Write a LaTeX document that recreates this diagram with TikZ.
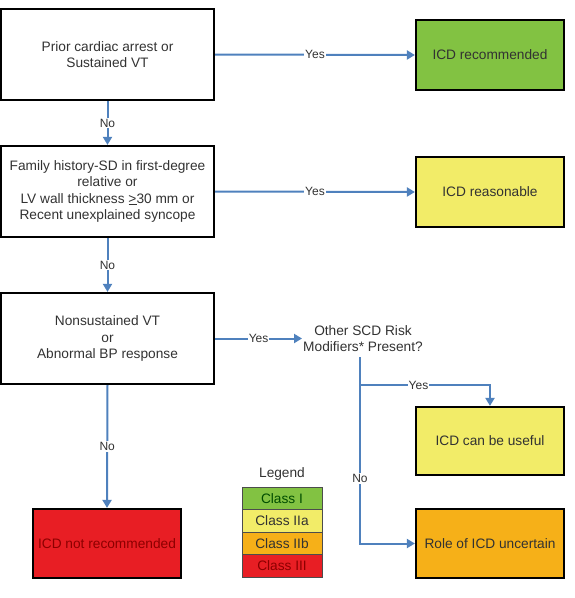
\documentclass[tikz,border=0pt]{standalone}
\usepackage{fontspec}
\setmainfont{Liberation Sans}
\usetikzlibrary{arrows.meta}
\definecolor{lblue}{RGB}{79,129,189}
\definecolor{cgreen}{RGB}{130,194,66}
\definecolor{cyellow}{RGB}{242,236,104}
\definecolor{corange}{RGB}{246,176,24}
\definecolor{cred}{RGB}{232,30,36}
\definecolor{txt}{RGB}{50,50,50}
\begin{document}
\begin{tikzpicture}[x=1pt,y=-1pt,
  font=\fontsize{13.7}{16.5}\selectfont,
  box/.style={draw=black,line width=2.2pt,align=center,inner sep=2pt,text=txt},
  conn/.style={draw=lblue,line width=2pt},
  arr/.style={conn,-{Triangle[width=9pt,length=8pt]}},
  lbl/.style={fill=white,inner sep=1pt,font=\fontsize{12}{14}\selectfont,text=txt},
  leg/.style={draw=black!70,line width=0.8pt,minimum width=80pt,minimum height=22.5pt,inner sep=0pt,text=txt}]
\useasboundingbox (0,0) rectangle (574,598);
% left column
\node[box,minimum width=213pt,minimum height=91pt] (b1) at (107.5,54.5) {Prior cardiac arrest or\\Sustained VT};
\node[box,minimum width=213pt,minimum height=91pt] (b2) at (107.5,191.5) {Family history-SD in first-degree\\relative or\\LV wall thickness \underline{>}30 mm or\\Recent unexplained syncope};
\node[box,minimum width=213pt,minimum height=91pt] (b3) at (107.5,338.5) {Nonsustained VT\\or\\Abnormal BP response};
\node[box,fill=cred,text=red!55!black,minimum width=148pt,minimum height=69pt] (r) at (107,543.5) {ICD not recommended};
% right column
\node[box,fill=cgreen,minimum width=148pt,minimum height=70pt] (g) at (490,55) {ICD recommended};
\node[box,fill=cyellow,minimum width=148pt,minimum height=70pt] (y) at (490,192) {ICD reasonable};
\node[box,fill=cyellow,minimum width=148pt,minimum height=68pt] (u) at (490,441) {ICD can be useful};
\node[box,fill=corange,minimum width=148pt,minimum height=69pt] (o) at (490,543.5) {Role of ICD uncertain};
% question
\node[align=center,inner sep=1pt,text=txt] (q) at (363,338.5) {Other SCD Risk\\Modifiers* Present?};
\coordinate (qs) at (360,357);
\coordinate (qy) at (360,385);
\coordinate (qyr) at (490,385);
\coordinate (qn) at (360,543.5);
% connectors
\draw[arr] (b1.east) -- node[lbl]{Yes} (g.west);
\draw[arr] (b2.east) -- node[lbl,pos=0.5]{Yes} (y.west);
\draw[arr] (b3.east) -- node[lbl]{Yes} (q.west |- b3.east);
\draw[arr] (b1.south) -- node[lbl]{No} (b2.north);
\draw[arr] (b2.south) -- node[lbl]{No} (b3.north);
\draw[arr] (b3.south) -- node[lbl,pos=0.5]{No} (r.north);
\draw[conn] (qs) -- (qy);
\draw[arr] (qy) -- node[lbl,pos=0.45]{Yes} (qyr) -- (u.north);
\draw[arr] (qy) -- node[lbl,pos=0.59]{No} (qn) -- (o.west);
% legend
\node[text=txt] (lt) at (282,474) {Legend};
\node[leg,fill=cgreen,text=green!30!black] (l1) at (282,498.25) {Class I};
\node[leg,fill=cyellow] (l2) at (282,520.75) {Class IIa};
\node[leg,fill=corange] (l3) at (282,543.25) {Class IIb};
\node[leg,fill=cred,text=red!55!black] (l4) at (282,565.75) {Class III};
\end{tikzpicture}
\end{document}
